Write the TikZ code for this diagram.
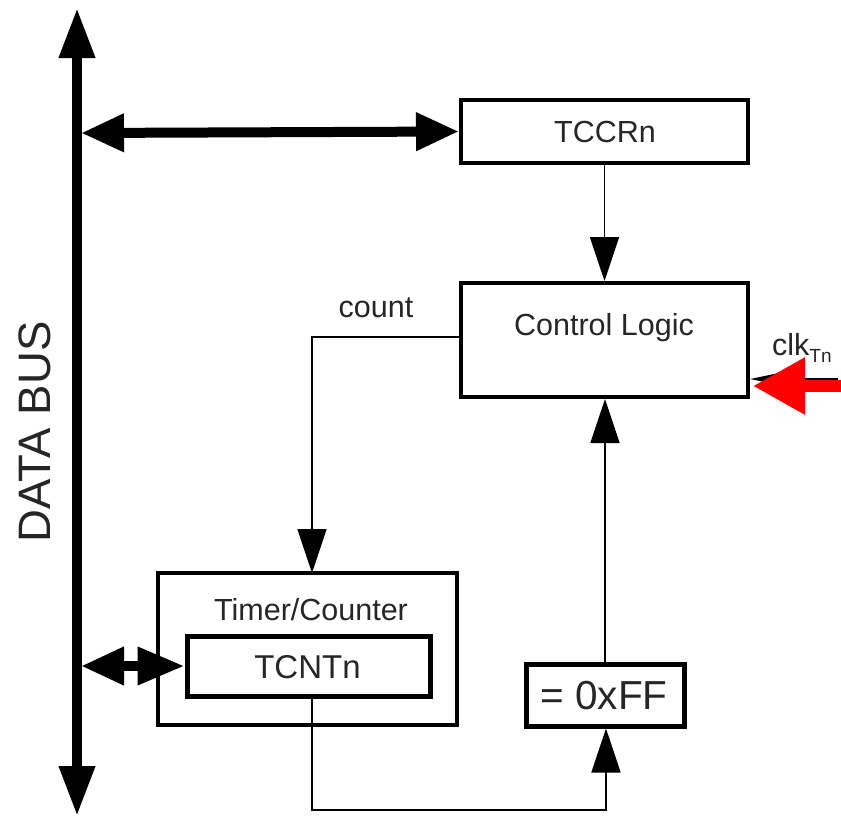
\documentclass[tikz,border=0pt]{standalone}
\usepackage{fontspec}
\setmainfont{Liberation Sans}
\usetikzlibrary{arrows.meta}
\begin{document}
\begin{tikzpicture}[x=1pt,y=-1pt,
  box/.style={draw=black,line width=4pt,inner sep=0pt},
  thinline/.style={draw=black,line width=1.8pt},
  thinarrow/.style={thinline,-{Triangle[length=44pt,width=29pt]}},
  busline/.style={draw=black,line width=10pt},
  lbl/.style={inner sep=0pt,text=black!85,font=\fontsize{30.5}{33}\selectfont}]
\useasboundingbox (0,0) rectangle (841,817);
% boxes
\node[box,minimum width=287pt,minimum height=63pt] (tccr) at (604.5,131.5) {};
\node[lbl] (tccrt) at (605,132) {TCCRn};
\node[box,minimum width=287pt,minimum height=114pt] (ctrl) at (604.5,340) {};
\node[lbl] (ctrlt) at (604,328) {Control Logic};
\node[box,minimum width=299pt,minimum height=152pt] (tc) at (307.5,649) {};
\node[lbl] (tct) at (311,610) {Timer/Counter};
\node[box,line width=5pt,minimum width=243pt,minimum height=60pt] (tcnt) at (308.5,666) {};
\node[lbl,font=\fontsize{33}{35}\selectfont] (tcntt) at (307.5,667) {TCNTn};
\node[box,line width=5pt,minimum width=158pt,minimum height=62pt] (ff) at (605,695) {};
\node[lbl,font=\fontsize{40.5}{42}\selectfont] (fft) at (604,696) {= 0xFF};
\node[lbl] (count) at (376,308) {count};
\node[lbl,font=\fontsize{45.5}{47}\selectfont,rotate=90] (bus) at (35,432) {DATA BUS};
\node[lbl,anchor=base west] (clk) at (772,355) {clk\raisebox{-7pt}{\fontsize{19}{20}\selectfont Tn}};
% data bus
\coordinate (btop) at (77,8);
\coordinate (bbot) at (77,816);
\draw[busline,{Triangle[length=50pt,width=34pt]}-{Triangle[length=50pt,width=34pt]}] (btop) -- (bbot);
\coordinate (b1) at (81,133);
\draw[busline,{Triangle[length=43pt,width=36pt]}-{Triangle[length=43pt,width=36pt]}] (b1) -- (tccr.west);
\coordinate (b2) at (81,666);
\draw[busline,{Triangle[length=43pt,width=36pt]}-{Triangle[length=47pt,width=36pt]}] (b2) -- (tcnt.west);
% control flow
\draw[thinarrow] (tccr.south) -- (ctrl.north);
\coordinate (cnt) at (312,337);
\coordinate (tcin) at (312,573);
\draw[thinarrow] (ctrl.west |- cnt) -- (cnt) -- (tcin);
\coordinate (o1) at (312,696);
\coordinate (o2) at (312,810);
\coordinate (o3) at (606,810);
\draw[thinarrow] (o1) -- (o2) -- (o3) -- (o3 |- ff.south);
\draw[thinarrow] (ff.north) -- (ctrl.south -| ff.north);
% clock input
\coordinate (ck1) at (838,379);
\coordinate (ck2) at (750,379);
\draw[thinline,-{Triangle[length=30pt,width=12pt]}] (ck1) -- (ck2);
\coordinate (r1) at (841,386);
\coordinate (r2) at (753,386);
\draw[red,line width=12pt,-{Triangle[length=52pt,width=54pt]}] (r1) -- (r2);
\end{tikzpicture}
\end{document}
